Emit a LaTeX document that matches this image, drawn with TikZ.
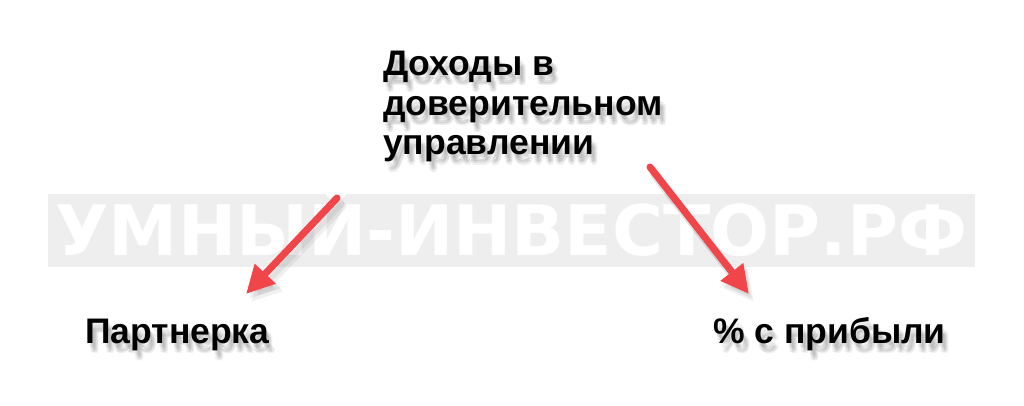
\documentclass[tikz,border=0pt]{standalone}
\usepackage{fontspec}
\setmainfont{Liberation Sans}
\newfontfamily\wmfont{DejaVu Sans}
\usetikzlibrary{arrows.meta}
\definecolor{arrowred}{HTML}{F04549}
\definecolor{bandgray}{HTML}{EEEEEE}
\tikzset{
  lbl/.style={inner sep=0pt, font=\fontsize{35.5}{39.5}\selectfont\bfseries, align=left, text=black},
  lblshadow/.style={lbl, text=black, opacity=0.06},
  redarrow/.style={draw=arrowred, line width=7pt, line cap=round, -{Triangle[length=28pt,width=27pt]}},
  arrowshadow/.style={draw=black, opacity=0.06, line width=9pt, line cap=round, -{Triangle[length=30pt,width=29pt]}},
}
\begin{document}
\begin{tikzpicture}[x=1pt,y=-1pt]
\useasboundingbox (0,0) rectangle (1024,406);
\fill[white] (0,0) rectangle (1024,406);
% watermark band
\fill[bandgray] (48,194) rectangle (975,267);
\node[inner sep=0pt, anchor=base west, text=white] (wm) at (55,255)
  {\resizebox{912pt}{!}{\wmfont\bfseries УМНЫЙ-ИНВЕСТОР.РФ}};
% soft shadows
\foreach \dx/\dy in {2/4,4/6,6/8,3/9,5/10} {
  \node[lblshadow, anchor=base west] (s1) at (383+\dx,155+\dy) {Доходы в\\доверительном\\управлении};
  \node[lblshadow, anchor=base west] (s2) at (85+\dx,343+\dy) {Партнерка};
  \node[lblshadow, anchor=base west] (s3) at (713+\dx,343+\dy) {\% с прибыли};
}
% texts
\node[lbl, anchor=base west] (top) at (383,155) {Доходы в\\доверительном\\управлении};
\node[lbl, anchor=base west] (left) at (85,343) {Партнерка};
\node[lbl, anchor=base west] (right) at (713,343) {\% с прибыли};
% arrow coordinates
\coordinate (ls) at (337,198);
\coordinate (le) at (246,294);
\coordinate (rs) at (650,167);
\coordinate (re) at (749,294);
\foreach \dx/\dy in {3/5,5/8} {
  \coordinate (lss) at (337+\dx,198+\dy);
  \coordinate (les) at (246+\dx,294+\dy);
  \coordinate (rss) at (650+\dx,167+\dy);
  \coordinate (res) at (749+\dx,294+\dy);
  \draw[arrowshadow] (lss) -- (les);
  \draw[arrowshadow] (rss) -- (res);
}
\draw[redarrow] (ls) -- (le);
\draw[redarrow] (rs) -- (re);
\end{tikzpicture}
\end{document}
